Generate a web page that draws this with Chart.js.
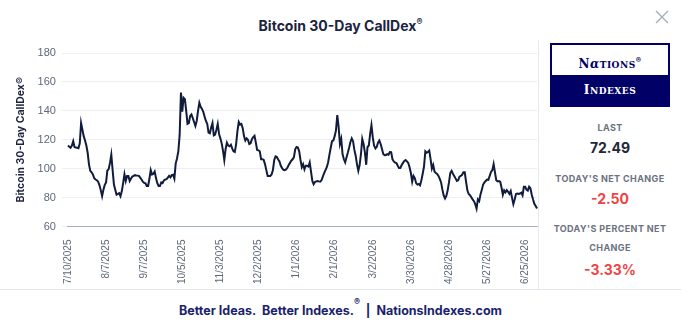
<!DOCTYPE html>
<html>
<head>
<meta charset="utf-8">
<script src="https://cdn.jsdelivr.net/npm/chart.js@4"></script>
<style>
  body { margin: 0; background: #fff; font-family: Inter, "Noto Sans", sans-serif; }
  #page { position: relative; width: 681px; height: 332px; overflow: hidden; }
  #title { position: absolute; top: 16px; left: 0; width: 681px; text-align: center; font-size: 14px; font-weight: 700; color: #1b2340; }
  #title sup { font-size: 9px; font-weight: 600; }
  #close { position: absolute; left: 655px; top: 10px; }
  #chartBox { position: absolute; left: 0; top: 40px; width: 538px; height: 249px; }
  #panel { position: absolute; left: 538px; top: 40px; width: 142px; height: 249px; border-left: 1px solid #e6e9ee; text-align: center; }
  #logo { position: absolute; left: 11px; top: 3px; width: 116px; height: 60px; border: 2px solid #000066; font-family: "DejaVu Serif", serif; font-weight: 700; }
  #logoTop { height: 30px; line-height: 30px; color: #000066; font-size: 12px; letter-spacing: 0.5px; }
  #logoTop sup { font-family: Inter, sans-serif; font-size: 8px; }
  #logoBottom { height: 30px; line-height: 30px; background: #000066; color: #fff; font-size: 12px; letter-spacing: 0.5px; }
  .small { font-size: 9px; }
  .lbl { position: absolute; left: 0; width: 142px; font-size: 9px; font-weight: 700; color: #6b7280; letter-spacing: 0.4px; }
  .num { position: absolute; left: 0; width: 142px; font-size: 14px; font-weight: 700; color: #1f2937; }
  .neg { color: #ef4444; }
  #footLine { position: absolute; left: 0; top: 289px; width: 681px; height: 1px; background: #e3e8ef; }
  #foot { position: absolute; left: 0; top: 301px; width: 681px; text-align: center; font-size: 12.5px; font-weight: 700; color: #1a1f6e; }
  #foot sup { font-size: 9px; position: relative; top: -5px; }
</style>
</head>
<body>
<div id="page">
  <div id="title">Bitcoin 30-Day CallDex<sup>®</sup></div>
  <svg id="close" width="14" height="14"><path d="M1 1 L13 13 M13 1 L1 13" stroke="#a3adbb" stroke-width="1.3"/></svg>
  <div id="chartBox"><canvas id="calldex-chart"></canvas></div>
  <div id="panel">
    <div id="logo">
      <div id="logoTop">N<span style="font-style:italic">α</span><span class="small">TIONS</span><sup>®</sup></div>
      <div id="logoBottom">I<span class="small">NDEXES</span></div>
    </div>
    <div class="lbl" style="top:82px">LAST</div>
    <div class="num" style="top:99px">72.49</div>
    <div class="lbl" style="top:133px">TODAY'S NET CHANGE</div>
    <div class="num neg" style="top:150px">-2.50</div>
    <div class="lbl" style="top:183px">TODAY'S PERCENT NET</div>
    <div class="lbl" style="top:202px">CHANGE</div>
    <div class="num neg" style="top:221px">-3.33%</div>
  </div>
  <div id="footLine"></div>
  <div id="foot">Better Ideas.&nbsp; Better Indexes.<sup>®</sup> &nbsp;|&nbsp; NationsIndexes.com</div>
</div>
<script>
// Index level, one value per day
const callDexValues = [
  116, 115.2, 114.5, 116, 119, 115, 114.6, 114.5, 114.2, 117.5,
  131.6, 127, 122.5, 119.5, 116, 111, 103, 98.5, 97.5, 96,
  93.4, 92.5, 92, 91, 88.5, 85, 81, 85.5, 88.8, 90.5,
  98.7, 99.7, 104, 109.7, 99, 89, 85.5, 82, 82.5, 83,
  81, 84.5, 90, 96.2, 91.5, 95, 95, 91.5, 93.2, 94.5,
  95, 95.5, 95.3, 95.2, 95, 93.8, 92.5, 91, 90.2, 89.9,
  88, 88, 93, 99, 96, 96.5, 98, 93.5, 90, 88,
  88, 90.5, 90, 91.8, 92.4, 92.7, 93.8, 95, 94, 95.5,
  95.8, 93.1, 103.5, 107, 112, 123, 152.6, 139.5, 149, 148,
  140, 131, 131.5, 136.5, 137.5, 135, 132.3, 129.5, 133, 140,
  145.6, 142.8, 141.3, 139.3, 136, 133, 131.1, 125, 124.5, 128.5,
  131.5, 123, 123.5, 127, 131, 124, 121, 117.5, 112.5, 106,
  113.6, 118, 116, 115.5, 116.6, 114, 112, 111.5, 117, 126,
  132.3, 130.5, 131, 128, 122.5, 119.5, 121, 120, 117, 117.5,
  120.4, 121.8, 122.7, 118, 113, 112.7, 112, 106.6, 106.6, 106,
  103, 99, 95, 95, 95, 96, 99, 106, 108.5, 108,
  106.3, 105, 102, 100.3, 99.2, 99, 99.5, 100.6, 102.5, 104,
  105.5, 106.5, 108, 113.6, 115, 114.6, 112, 106, 101, 103,
  99.5, 102, 102, 101.5, 104.3, 98, 91.5, 89.2, 90.8, 91.2,
  91.5, 91.2, 91, 92, 94.5, 97, 99, 101, 104.3, 109.5,
  114.5, 119, 119.5, 122.5, 126.5, 137, 129, 117.1, 120.6, 110.1,
  106.5, 104.3, 107.8, 111, 114.5, 118.5, 121, 119, 113, 109,
  103, 98.5, 102.5, 110, 120.6, 117.1, 111.3, 102.7, 115, 116,
  124, 130, 121.8, 116, 114, 115, 118, 119.5, 117.1, 113.6,
  110.2, 109.3, 109.5, 110.1, 109.7, 111.5, 111.4, 106.5, 105, 104.2,
  103.9, 102, 100.5, 100.5, 102.5, 104, 105.3, 106, 105, 104,
  101, 97, 91, 95, 93.5, 90, 89, 89.4, 88.5, 92,
  96.5, 101.5, 112, 111, 111.5, 112.5, 106.6, 100, 102.5, 98,
  97, 96.4, 95, 93, 90.5, 85.5, 81.5, 79.4, 81.2, 85,
  90.5, 97, 98.5, 96.5, 95, 93.3, 91.5, 92, 94.5, 95,
  95.8, 97.5, 97.5, 91, 85, 82.5, 81.7, 80.3, 78.8, 77.5,
  75.5, 72.4, 78.7, 77.5, 82.2, 85.5, 89, 90.5, 91.5, 92.5,
  92.3, 95, 97.8, 99, 103.2, 97.5, 92, 91.2, 91.5, 91,
  87, 82, 85, 83.6, 85.2, 84, 82.5, 84.5, 79.8, 75.5,
  78.7, 82.5, 82.8, 82.5, 82.8, 83.4, 81.5, 87.5, 87.5, 85.5,
  84.8, 87.5, 86.5, 82, 78.7, 75.7, 74.2, 72.49
];

// Dates printed under the x axis, one every pointsPerTick values
const tickLabels = [
  "7/10/2025", "8/7/2025", "9/7/2025", "10/5/2025", "11/3/2025", "12/2/2025",
  "1/1/2026", "2/1/2026", "3/2/2026", "3/30/2026", "4/28/2026", "5/27/2026", "6/25/2026"
];
const pointsPerTick = 29;

const yTicks = { min: 60, max: 180, step: 20 };

function drawCallDexChart() {
    const ctx = document.getElementById("calldex-chart").getContext("2d");

    const labels = callDexValues.map((v, i) =>
        i % pointsPerTick === 0 ? (tickLabels[i / pointsPerTick] || "") : "");

    new Chart(ctx, {
        type: 'line',
        data: {
            labels: labels,
            datasets: [{
                label: 'Bitcoin 30-Day CallDex®',
                data: callDexValues,
                borderColor: '#111c3d',
                borderWidth: 2,
                pointRadius: 0,
                tension: 0,
                fill: false
            }]
        },
        options: {
            responsive: true,
            maintainAspectRatio: false,
            animation: false,
            layout: { padding: { top: 13, right: 1, bottom: 0, left: 15 } },
            plugins: {
                legend: { display: false },
                tooltip: { enabled: false }
            },
            scales: {
                x: {
                    // the blank last label should not shrink the plot on the right
                    afterFit: (scale) => { scale.paddingRight = 0; },
                    grid: { display: false },
                    border: { color: '#a9b1bd' },
                    ticks: {
                        autoSkip: false,
                        minRotation: 90,
                        maxRotation: 90,
                        padding: 5,
                        color: '#5f6878',
                        font: { family: 'Liberation Sans', size: 10 }
                    }
                },
                y: {
                    min: yTicks.min,
                    max: yTicks.max,
                    border: { display: false },
                    grid: { color: '#eceff3', tickLength: 6 },
                    ticks: {
                        stepSize: yTicks.step,
                        padding: 6,
                        color: '#5f6878',
                        font: { family: 'Liberation Sans', size: 11 }
                    },
                    title: {
                        display: true,
                        text: 'Bitcoin 30-Day CallDex®',
                        color: '#1b2340',
                        font: { family: 'Inter', size: 10.5, weight: 'bold' },
                        padding: { top: 0, bottom: 4 }
                    }
                }
            }
        }
    });
}

window.addEventListener('load', drawCallDexChart);
</script>
</body>
</html>
